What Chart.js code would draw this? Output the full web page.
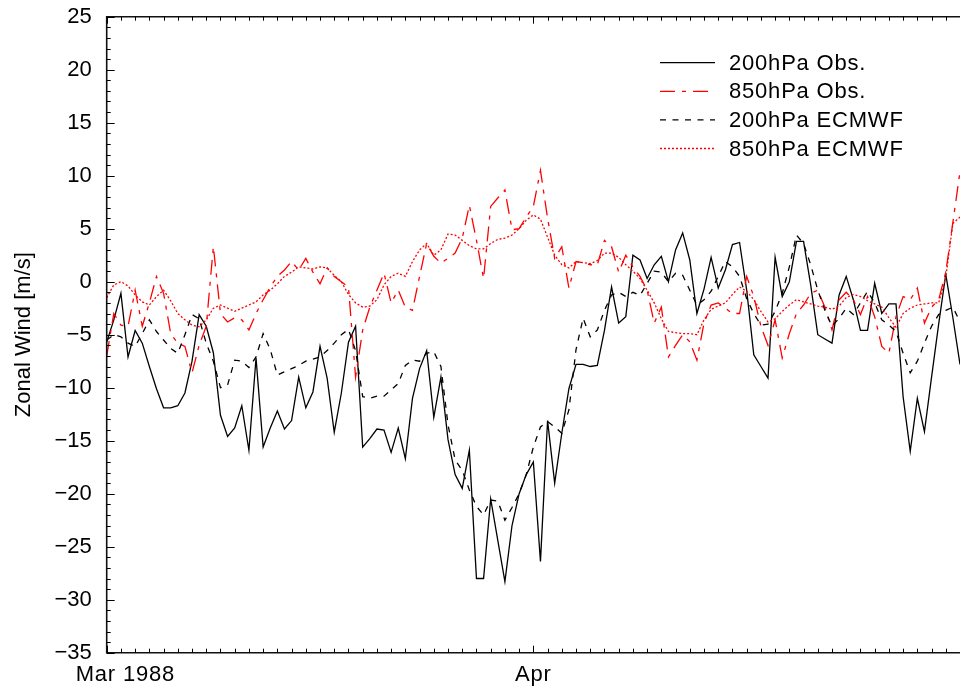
<!DOCTYPE html>
<html><head><meta charset="utf-8">
<script src="https://cdn.jsdelivr.net/npm/chart.js@4/dist/chart.umd.min.js"></script>
<style>html,body{margin:0;padding:0;background:#fff;}#wrap{width:960px;height:686px;position:relative;}</style>
</head><body><div id="wrap"><canvas id="c" width="960" height="686"></canvas></div>
<script>
// Time axis: half-day steps (00Z / 12Z) starting at the left edge, Mar 1988
const stepCount = 121;
const xTickLabels = [{at: 0, text: 'Mar 1988', shift: -31}, {at: 60, text: 'Apr', shift: null}];
const yTicks = [-35, -30, -25, -20, -15, -10, -5, 0, 5, 10, 15, 20, 25];
const seriesNames = ['200hPa Obs.', '850hPa Obs.', '200hPa ECMWF', '850hPa ECMWF'];

const obs200 = [-5.7,-3.6,-1.1,-7.1,-4.6,-5.8,-8.0,-10.1,-11.9,-11.9,-11.7,-10.5,-7.5,-3.1,-4.2,-6.7,-12.6,-14.6,-13.8,-11.7,
-15.9,-7.2,-15.6,-13.8,-12.2,-13.9,-13.1,-9.0,-11.9,-10.4,-6.1,-9.1,-14.2,-10.5,-5.7,-4.2,-15.6,-14.8,-13.9,-14.0,
-16.1,-13.8,-16.7,-11.0,-8.2,-6.5,-12.8,-9.0,-14.9,-18.2,-19.5,-15.9,-28.0,-28.0,-20.5,-24.4,-28.3,-23.0,-20.0,-18.2,
-17.0,-26.4,-13.1,-19.0,-14.3,-10.1,-7.8,-7.8,-8.0,-7.9,-4.6,-0.5,-3.9,-3.3,2.5,2.05,0.3,1.6,2.4,0.0,
3.0,4.6,2.05,-3.0,-0.7,2.3,-0.6,1.1,3.5,3.7,-0.8,-6.9,-8.0,-9.1,2.3,-1.4,0.0,3.8,3.8,-0.3,
-5.0,-5.4,-5.8,-1.25,0.5,-1.7,-4.6,-4.6,-0.15,-3.0,-2.1,-2.1,-10.85,-16.0,-11.0,-14.15,-9.0,-4.0,0.7,-3.4,-7.8];

const obs850 = [-7.0,-3.0,-4.1,-4.2,-0.8,-4.2,-2.0,0.5,-1.1,-4.9,-5.8,-6.1,-8.6,-6.0,-4.2,3.3,-3.0,-3.8,-3.4,-3.6,
-4.55,-3.0,-1.7,-0.5,0.5,1.1,1.9,1.1,2.2,0.9,-0.2,1.3,0.5,0.0,-0.5,-9.0,-4.55,-2.4,-0.8,0.8,
-2.0,-0.8,-2.4,-2.7,0.5,3.6,2.4,1.75,2.2,2.7,4.1,7.2,3.9,0.3,7.1,7.9,8.65,4.9,5.0,6.1,
7.1,10.5,6.0,2.2,3.3,-0.6,1.9,1.8,1.6,1.6,3.9,3.3,0.9,2.5,1.4,0.5,-0.8,-3.9,-2.4,-7.1,
-6.0,-5.0,-5.66,-7.4,-3.9,-2.2,-2.0,-2.5,-3.0,-3.0,0.5,-1.4,-4.2,-6.0,-3.6,-7.2,-4.9,-3.0,-2.2,-1.1,
-0.8,-2.4,-4.55,-1.7,-1.0,-1.7,-3.1,-1.4,-3.3,-6.1,-6.75,-3.3,-1.4,-1.7,-0.6,-3.9,-2.4,-1.7,0.9,5.6,10.4];

const ecm200 = [-5.5,-5.0,-5.2,-5.8,-6.1,-4.9,-3.6,-4.7,-5.5,-6.3,-6.75,-5.0,-3.1,-3.5,-5.8,-7.5,-10.0,-9.75,-7.4,-7.5,
-8.1,-7.1,-4.9,-6.4,-8.8,-8.5,-8.2,-7.9,-7.5,-7.3,-7.1,-6.5,-5.8,-5.0,-4.5,-6.5,-10.85,-11.0,-10.8,-10.8,
-10.2,-9.6,-7.9,-7.4,-7.5,-6.75,-6.6,-8.0,-13.5,-16.8,-17.8,-19.65,-21.2,-22.0,-20.6,-20.7,-22.5,-21.3,-20.0,-18.2,
-15.6,-13.7,-13.2,-13.7,-14.3,-12.1,-6.4,-3.45,-5.2,-4.55,-2.7,-1.25,-1.0,-1.4,-1.0,-1.3,-0.15,1.0,0.9,0.0,
0.8,0.6,-0.8,-2.2,-1.7,-0.9,0.5,1.9,1.4,0.5,-1.6,-3.0,-4.1,-4.0,-2.8,-1.1,1.4,4.4,3.6,1.6,
-0.8,-2.7,-4.2,-3.45,-2.5,-3.1,-2.0,-0.9,-2.0,-3.6,-4.1,-4.7,-6.75,-8.6,-7.5,-5.8,-4.2,-3.1,-2.7,-2.4,-3.8];

const ecm850 = [-1.5,-0.3,0.0,-0.4,-1.25,-1.9,-2.2,-1.4,-0.8,-1.8,-3.0,-3.6,-4.1,-4.25,-3.6,-2.5,-2.2,-2.5,-2.8,-2.5,
-2.2,-1.9,-1.25,-0.8,-0.2,0.5,0.9,1.4,1.3,1.2,1.4,1.3,0.6,0.0,-1.2,-2.0,-2.4,-2.3,-1.7,-0.3,
0.5,0.8,0.5,1.9,3.0,3.6,2.5,3.0,4.5,4.4,3.9,3.4,3.1,3.1,3.6,4.0,4.1,4.4,5.0,5.8,
6.3,5.9,4.2,2.5,1.6,1.3,1.9,1.8,1.7,2.0,2.7,2.7,2.3,1.6,1.0,0.3,-0.8,-2.0,-3.5,-4.7,
-4.8,-4.9,-4.9,-5.0,-3.6,-2.6,-2.3,-2.0,-1.2,-0.5,-0.9,-1.7,-2.8,-3.8,-3.5,-2.8,-2.2,-1.7,-1.9,-2.1,
-2.3,-2.4,-2.6,-2.3,-1.5,-1.2,-1.4,-1.8,-2.1,-2.4,-3.4,-4.3,-3.0,-2.5,-2.2,-2.1,-2.0,-2.0,0.4,5.5,6.1];

const FONT = '"Liberation Sans", Arial, Helvetica, sans-serif';
const FS = 22;
const toXY = arr => arr.map((v, i) => ({x: i, y: v}));

const styles = [
  {color: '#000000', dash: []},
  {color: '#ff0000', dash: [15, 7, 4, 7]},
  {color: '#000000', dash: [6, 6.5]},
  {color: '#ff0000', dash: [2, 2]}
];
const values = [obs200, obs850, ecm200, ecm850];

const datasets = values.map((arr, k) => ({
  label: seriesNames[k],
  data: toXY(arr),
  borderColor: styles[k].color,
  borderDash: styles[k].dash,
  borderWidth: 1.3,
  pointRadius: 0,
  tension: 0,
  fill: false,
  clip: false
})).reverse();

const L = 106.7, T = 16.7, B = 652.7;

const framePlugin = {
  id: 'frame',
  afterDraw(chart) {
    const ctx = chart.ctx, xs = chart.scales.x, ys = chart.scales.y;
    const a = chart.chartArea;
    ctx.save();
    ctx.strokeStyle = '#111'; ctx.lineWidth = 1.6; ctx.setLineDash([]);
    ctx.beginPath();
    ctx.moveTo(a.right + 2, a.top); ctx.lineTo(a.left, a.top); ctx.lineTo(a.left, a.bottom); ctx.lineTo(a.right + 2, a.bottom);
    ctx.stroke();
    ctx.lineWidth = 1;
    ctx.strokeStyle = '#000';
    ctx.beginPath();
    for (let v = -35; v <= 25; v++) {
      const y = Math.round(ys.getPixelForValue(v)) + 0.5;
      const len = (v % 5 === 0) ? 8 : 4;
      ctx.moveTo(a.left, y); ctx.lineTo(a.left + len, y);
    }
    for (let t = 0; t <= 120; t += 2) {
      const x = Math.round(xs.getPixelForValue(t)) + 0.5;
      const len = (t % 60 === 0) ? 7 : 4;
      ctx.moveTo(x, a.bottom); ctx.lineTo(x, a.bottom - len);
      ctx.moveTo(x, a.top); ctx.lineTo(x, a.top + len);
    }
    ctx.stroke();
    ctx.fillStyle = '#000';
    ctx.font = FS + 'px ' + FONT;
    ctx.letterSpacing = '0.8px';
    ctx.textBaseline = 'middle';
    // x labels
    xTickLabels.forEach(l => {
      const px = xs.getPixelForValue(l.at);
      if (l.shift === null) { ctx.textAlign = 'center'; ctx.fillText(l.text, px, 675); }
      else { ctx.textAlign = 'left'; ctx.fillText(l.text, px + l.shift, 675); }
    });
    // legend
    ctx.textAlign = 'left';
    const lx0 = 660, lx1 = 715, tx = 729, ly0 = 62.7, dy = 28.6;
    seriesNames.forEach((name, k) => {
      const y = ly0 + k * dy;
      ctx.strokeStyle = styles[k].color; ctx.setLineDash(styles[k].dash); ctx.lineWidth = 1.3;
      ctx.beginPath(); ctx.moveTo(lx0, y); ctx.lineTo(lx1, y); ctx.stroke();
      ctx.setLineDash([]);
      ctx.fillStyle = '#000';
      ctx.fillText(name, tx, y + 1);
    });
    ctx.restore();
  }
};

new Chart(document.getElementById('c'), {
  type: 'line',
  data: {datasets},
  options: {
    responsive: false, animation: false, devicePixelRatio: 1,
    layout: {padding: {top: T, right: 0, left: 0, bottom: 0}},
    plugins: {legend: {display: false}, tooltip: {enabled: false}},
    scales: {
      x: {
        type: 'linear', min: 0, max: stepCount - 1,
        grid: {display: false, drawTicks: false}, border: {display: false},
        ticks: {display: false},
        afterFit: s => { s.height = 686 - B; s.paddingLeft = 0; s.paddingRight = 0; }
      },
      y: {
        min: -35, max: 25,
        afterBuildTicks: s => { s.ticks = yTicks.map(v => ({value: v})); },
        grid: {display: false, drawTicks: false}, border: {display: false},
        ticks: {color: '#000', font: {family: FONT, size: FS}, padding: 15,
          callback: v => String(v).replace('-', '\u2212')},
        title: {display: true, text: 'Zonal Wind [m/s]', color: '#000', font: {family: FONT, size: FS}, padding: {top: 11, bottom: 0}},
        afterFit: s => { s.width = L; s.paddingTop = 0; s.paddingBottom = 0; }
      }
    }
  },
  plugins: [framePlugin]
});
</script></body></html>
